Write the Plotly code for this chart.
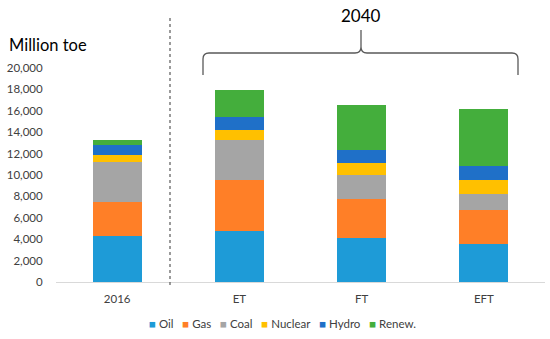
import plotly.graph_objects as go

categories = ["2016", "ET", "FT", "EFT"]
oil = [4300, 4770, 4110, 3590]
gas = [3180, 4730, 3680, 3110]
coal = [3740, 3740, 2210, 1560]
nuclear = [620, 940, 1160, 1240]
hydro = [930, 1240, 1210, 1310]
renew = [470, 2500, 4210, 5360]

series = [
    ("Oil", oil, "#1E9BD7"),
    ("Gas", gas, "#FF7F27"),
    ("Coal", coal, "#A5A5A5"),
    ("Nuclear", nuclear, "#FFC000"),
    ("Hydro", hydro, "#1F70C8"),
    ("Renew.", renew, "#44AE3C"),
]

fig = go.Figure()
for name, vals, col in series:
    fig.add_trace(go.Bar(x=categories, y=vals, name=name, showlegend=False,
                         marker=dict(color=col, line=dict(width=0))))

W, H = 550, 339
L, R, T, B = 56, 5, 68, 57
pw = W - L - R
ph = H - T - B

def px(x):
    return (x - L) / pw

def py(y):
    return (H - B - y) / ph

shapes = []
# dotted separator
shapes.append(dict(type="line", xref="paper", yref="paper", x0=px(170), x1=px(170), y0=py(18), y1=py(286),
                   line=dict(color="#595959", width=1.2, dash="dot")))
# brace
xl, xr, xc = px(203), px(518), px(361)
yh, yb, yt = py(53), py(75), py(30)
dx, dy = 6 / pw, 6 / ph
path = (f"M {xl},{yb} L {xl},{yh - dy} Q {xl},{yh} {xl + dx},{yh} "
        f"L {xc - dx},{yh} Q {xc},{yh} {xc},{yh + dy} L {xc},{yt} "
        f"M {xc},{yh + dy} Q {xc},{yh} {xc + dx},{yh} "
        f"L {xr - dx},{yh} Q {xr},{yh} {xr},{yh - dy} L {xr},{yb}")
shapes.append(dict(type="path", xref="paper", yref="paper", path=path,
                   line=dict(color="#595959", width=1.3)))

legend_text = "&nbsp;&nbsp;&nbsp;".join(
    f"<span style='color:{col}'>■</span> {name}" for name, _, col in series
)

annotations = [
    dict(text="2040", xref="paper", yref="paper", x=px(361), y=py(16), showarrow=False,
         font=dict(size=17, color="#000000"), xanchor="center", yanchor="middle"),
    dict(text="Million toe", xref="paper", yref="paper", x=px(7), y=py(45), showarrow=False,
         font=dict(size=16.5, color="#000000"), xanchor="left", yanchor="middle"),
    dict(text=legend_text, xref="paper", yref="paper", x=px(282), y=py(323), showarrow=False,
         font=dict(size=11.5, color="#404040"), xanchor="center", yanchor="middle"),
]

fig.update_layout(
    barmode="stack",
    bargap=0.6,
    width=W, height=H,
    margin=dict(l=L, r=R, t=T, b=B, pad=0),
    plot_bgcolor="white", paper_bgcolor="white",
    font=dict(family="Lato, Carlito, 'Open Sans', sans-serif", size=11, color="#404040"),
    showlegend=False,
    shapes=shapes,
    annotations=annotations,
)
fig.update_xaxes(showline=True, linecolor="#D9D9D9", linewidth=1, showgrid=False,
                 ticks="outside", ticklen=6, tickcolor="rgba(0,0,0,0)", tickfont=dict(size=11.5, color="#404040"))
fig.update_yaxes(range=[0, 20000], dtick=2000, tickformat=",", showgrid=False, zeroline=False,
                 ticks="outside", ticklen=10, tickcolor="rgba(0,0,0,0)", tickfont=dict(size=11.5, color="#404040"))

fig.write_html("out.html", config={"displayModeBar": False},
               post_script="document.body.style.margin='0';")
